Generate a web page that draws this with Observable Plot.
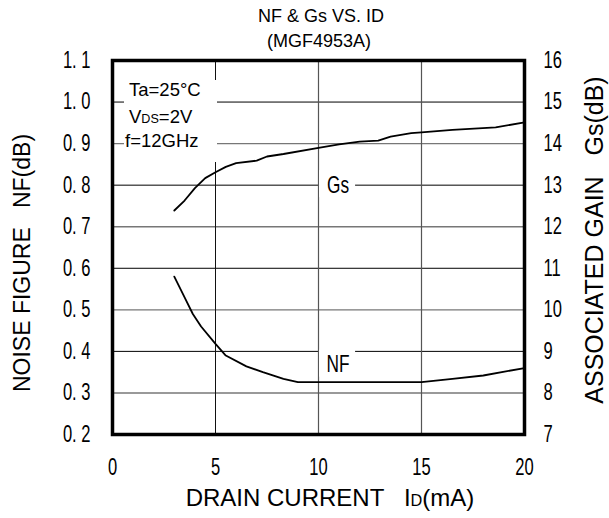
<!DOCTYPE html>
<html>
<head>
<meta charset="utf-8">
<script src="https://cdn.jsdelivr.net/npm/d3@7"></script>
<script src="https://cdn.jsdelivr.net/npm/@observablehq/plot@0.6"></script>
<style>
  html, body { margin: 0; padding: 0; background: #fff; }
  #wrap { position: relative; width: 609px; height: 518px; font-family: "Liberation Sans", Arial, sans-serif; color: #000; overflow: hidden; }
  #wrap svg { position: absolute; left: 0; top: 0; }
  .ov { position: absolute; white-space: pre; line-height: 1; }
  .ctr { transform: translate(-50%, 0); }
  .rot { transform: translate(-50%, -50%) rotate(-90deg); }
  .sub { font-size: 0.68em; }
</style>
</head>
<body>
<div id="wrap">
  <div class="ov ctr" style="left:321px; top:7px; font-size:18px;">NF &amp; Gs VS. ID</div>
  <div class="ov ctr" style="left:319px; top:32px; font-size:18px;">(MGF4953A)</div>
  <div class="ov rot" style="left:22px; top:263px; font-size:23px;">NOISE FIGURE   NF(dB)</div>
  <div class="ov rot" style="left:594px; top:240px; font-size:25px;">ASSOCIATED GAIN   Gs(dB)</div>
  <div class="ov ctr" style="left:330px; top:486px; font-size:24px;">DRAIN CURRENT   I<span class="sub">D</span>(mA)</div>
  <div id="cond" class="ov" style="left:124px; top:80px; width:93px; height:82px; background:#fff;"></div>
</div>
<script>
// ---- data ----
const gsIds    = [3, 3.5, 4, 4.5, 5, 5.5, 6, 7, 7.5, 8.3, 10, 11, 12, 12.9, 13.5, 14.5, 15, 16.5, 18.6, 20];
const gsValues = [12.39, 12.63, 12.93, 13.17, 13.31, 13.44, 13.53, 13.59, 13.69, 13.75, 13.9, 13.98, 14.05, 14.07, 14.17, 14.25, 14.27, 14.33, 14.39, 14.51];
const nfIds    = [3, 3.5, 3.9, 4.3, 5, 5.5, 6.5, 7.3, 8.3, 9, 15, 16.5, 18, 20];
const nfValues = [0.58, 0.53, 0.49, 0.46, 0.418, 0.39, 0.364, 0.35, 0.334, 0.326, 0.326, 0.334, 0.342, 0.36];
const xTicks  = [0, 5, 10, 15, 20];
const nfTicks = [0.2, 0.3, 0.4, 0.5, 0.6, 0.7, 0.8, 0.9, 1.0, 1.1];
const gsTicks = [7, 8, 9, 10, 11, 12, 13, 14, 15, 16];
const conditions = ["Ta=25°C", "V|DS|=2V", "f=12GHz"];
const curveNames = ["Gs", "NF"];

// Gs (right axis, 7..16 dB) shares the frame with NF (left axis, 0.2..1.1 dB)
const gsToNf = g => 0.2 + (g - 7) / 10;
const nfToGs = v => Math.round((v - 0.2) * 10 + 7);

const gsData = gsIds.map((x, i) => ({x, y: gsToNf(gsValues[i])}));
const nfData = nfIds.map((x, i) => ({x, y: nfValues[i]}));
const labels = [
  {label: curveNames[0], x: 10.95, y: gsToNf(13)},
  {label: curveNames[1], x: 10.95, y: 0.368}
];

const chart = Plot.plot({
  width: 609,
  height: 518,
  marginLeft: 112,
  marginRight: 85,
  marginTop: 60,
  marginBottom: 84,
  style: {background: "transparent", fontFamily: "'Liberation Sans', Arial, sans-serif", color: "#000"},
  x: {domain: [0, 20]},
  y: {domain: [0.2, 1.1]},
  marks: [
    Plot.ruleY([0.4, 0.6, 0.8, 1.0], {stroke: "#000", strokeWidth: 1}),
    Plot.ruleY([0.3, 0.5, 0.7, 0.9], {stroke: "#777", strokeWidth: 1.4}),
    Plot.ruleX([5], {stroke: "#111", strokeWidth: 1}),
    Plot.ruleX([10, 15], {stroke: "#555", strokeWidth: 1.2}),
    Plot.line(gsData, {x: "x", y: "y", stroke: "#000", strokeWidth: 1.8, curve: "linear"}),
    Plot.line(nfData, {x: "x", y: "y", stroke: "#000", strokeWidth: 1.8, curve: "linear"}),
    Plot.rect(labels, {x1: d => d.x - 0.9, x2: d => d.x + 0.85, y1: d => d.y - 0.03, y2: d => d.y + 0.035, fill: "#fff"}),
    Plot.text(labels, {x: "x", y: "y", text: "label", fontSize: 24, fill: "#000"}),
    Plot.axisX(xTicks, {anchor: "bottom", tickSize: 0, tickPadding: 24, fontSize: 23, label: null}),
    Plot.axisY(nfTicks, {anchor: "left", tickSize: 0, tickPadding: 22, fontSize: 23, label: null,
      tickFormat: d => d.toFixed(1).replace(".", ". ")}),
    Plot.axisY(gsTicks.map(gsToNf), {anchor: "right", tickSize: 0, tickPadding: 19, fontSize: 23, label: null,
      tickFormat: d => String(nfToGs(d))}),
    Plot.frame({stroke: "#000", strokeWidth: 3.5})
  ]
});

document.getElementById("wrap").insertBefore(chart, document.getElementById("cond"));

// condensed look of the tick labels and curve labels
d3.select(chart).selectAll('g[aria-label$="tick label"] text').each(condense);
d3.select(chart).selectAll("text").filter(function () { return curveNames.includes(this.textContent); }).each(condense);
function condense() {
  const t = this.getAttribute("transform") || "";
  if (!t.includes("scale")) this.setAttribute("transform", t + " scale(0.72,1)");
}

// condition box
const cond = document.getElementById("cond");
const tops = [0.5, 27.5, 52];
conditions.forEach((c, i) => {
  const div = document.createElement("div");
  div.className = "ov";
  div.style.left = (i === 2 ? 1 : 5) + "px";
  div.style.top = tops[i] + "px";
  div.style.fontSize = "18.5px";
  const parts = c.split("|");
  parts.forEach((p, j) => {
    if (j % 2 === 1) {
      const s = document.createElement("span");
      s.className = "sub";
      s.textContent = p;
      div.appendChild(s);
    } else {
      div.appendChild(document.createTextNode(p));
    }
  });
  cond.appendChild(div);
});
</script>
</body>
</html>
